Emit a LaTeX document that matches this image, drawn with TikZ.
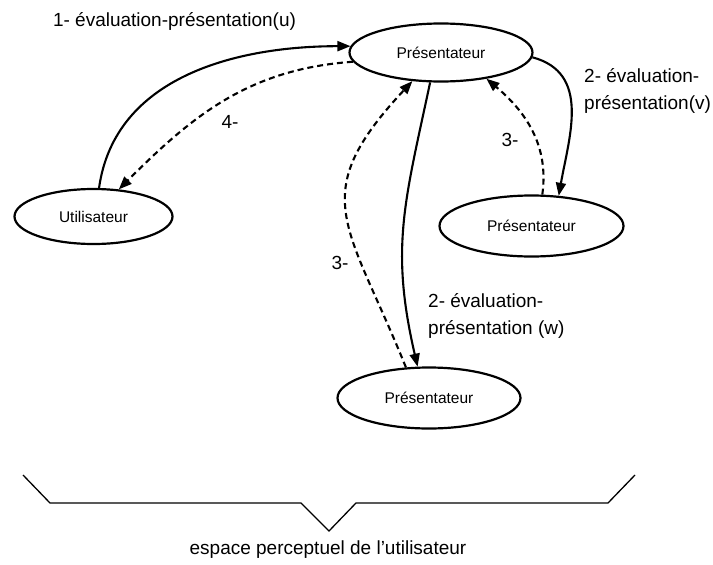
\documentclass[tikz,border=0pt]{standalone}
\usepackage{fontspec}
\setmainfont{Liberation Sans}
\usetikzlibrary{shapes.geometric, arrows.meta}
\tikzset{
    etat/.style={ellipse, draw, line width=2.2pt, inner sep=0pt,
        font=\fontsize{15.5}{18}\selectfont},
    lbl/.style={inner sep=0pt, font=\fontsize{19}{27}\selectfont},
    lien/.style={line width=2.1pt, -{Triangle[length=13pt,width=10pt]}},
    retour/.style={lien, dash pattern=on 6pt off 4pt}
}

\begin{document}
\begin{tikzpicture}[x=1pt, y=-1pt]
	\useasboundingbox (0,0) rectangle (713,565);
	\node [etat, minimum width=183pt, minimum height=58pt] (pres) at (441,52.5) {Présentateur};
	\node [etat, minimum width=158pt, minimum height=55pt] (util) at (93.5,216.5) {Utilisateur};
	\node [etat, minimum width=184pt, minimum height=61pt] (presv) at (531.5,226) {Présentateur};
	\node [etat, minimum width=183pt, minimum height=61pt] (presw) at (429,398) {Présentateur};
	\draw [lien] (util.79) to[out=82, in=180] (pres.176);
	\draw [retour] (pres.186) to[out=184, in=45] (util.47);
	\draw [lien] (pres.-3) to[out=-15, in=80, looseness=1.1] (presv.48);
	\draw [retour] (presv.71) to[out=82, in=-40] (pres.-30);
	\draw [lien] (pres.-110) to[out=-102, in=103, looseness=1.1] (presw.110);
	\draw [retour] (presw.127) to[out=112, in=-133, looseness=1.4] (pres.-135);
	\node [lbl] (l1) at (174.5,21) {1- évaluation-présentation(u)};
	\node [lbl] (l4) at (230,122) {4-};
	\node [lbl] (l3v) at (510,140) {3-};
	\node [lbl, align=left, anchor=west] (l2v) at (584,91) {2- évaluation-\\présentation(v)};
	\node [lbl] (l3w) at (340,263) {3-};
	\node [lbl, align=left, anchor=west] (l2w) at (428,315.5) {2- évaluation-\\présentation (w)};
	\draw [line width=1.3pt] (23,475) -- (50,503) -- (301,503) -- (329,531)
		-- (356,503) -- (608,503) -- (635,475);
	\node [lbl] (espace) at (328,550) {espace perceptuel de l’utilisateur};
\end{tikzpicture}
\end{document}
